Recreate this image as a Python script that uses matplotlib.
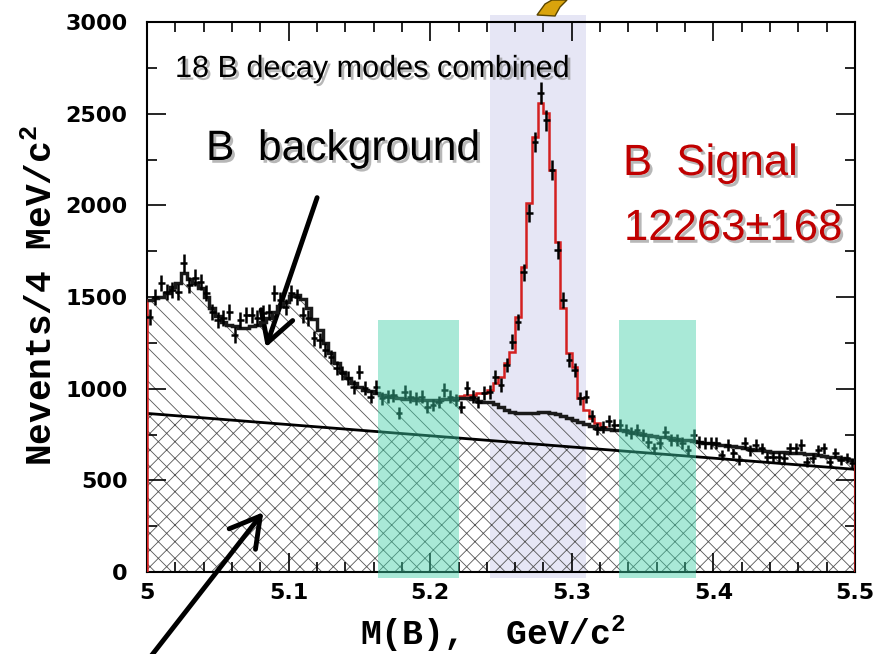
import matplotlib
matplotlib.use("Agg")
import matplotlib.pyplot as plt
import matplotlib.patheffects as pe
from matplotlib import font_manager
from matplotlib.patches import Rectangle, Polygon
from matplotlib.ticker import MultipleLocator, FuncFormatter
import numpy as np

# 4 MeV bins between 5.0 and 5.5 GeV/c^2
mass_lo, mass_hi, n_bins = 5.0, 5.5, 125

data_counts = [
    1391, 1500, 1576, 1527, 1538, 1527, 1685, 1565, 1604, 1582,
    1522, 1418, 1375, 1385, 1418, 1293, 1375, 1402, 1402, 1385,
    1413, 1418, 1522, 1484, 1445, 1522, 1500, 1402, 1385, 1276,
    1265, 1211, 1173, 1113, 1085, 1058, 1009, 1091, 1004, 955,
    1009, 949, 955, 965, 867, 982, 955, 949, 955, 900,
    911, 927, 993, 955, 938, 900, 1004, 955, 927, 976,
    982, 1063, 1020, 1129, 1255, 1364, 1636, 1958, 2345, 2612,
    2465, 2193, 1756, 1484, 1156, 1102, 949, 955, 850, 780,
    790, 822, 802, 802, 775, 758, 775, 747, 709, 676,
    704, 764, 720, 720, 704, 665, 747, 709, 704, 704,
    704, 638, 693, 649, 611, 704, 665, 693, 676, 627,
    627, 627, 622, 676, 676, 693, 600, 622, 665, 676,
    600, 649, 611, 622, 594,
]

# B background (black step curve)
bkg_counts = [
    1485, 1495, 1500, 1520, 1555, 1575, 1630, 1600, 1576, 1550,
    1500, 1440, 1395, 1365, 1350, 1340, 1330, 1330, 1340, 1350,
    1365, 1385, 1420, 1450, 1475, 1505, 1512, 1490, 1440, 1380,
    1320, 1250, 1195, 1140, 1090, 1060, 1030, 1010, 995, 985,
    975, 965, 958, 952, 948, 945, 942, 940, 938, 938,
    938, 940, 942, 945, 948, 950, 948, 942, 935, 930,
    925, 915, 900, 885, 875, 868, 866, 868, 870, 872,
    872, 868, 862, 852, 842, 830, 818, 806, 795, 788,
    782, 778, 775, 772, 768, 762, 757, 752, 747, 742,
    738, 735, 731, 727, 722, 718, 714, 710, 706, 702,
    698, 694, 690, 686, 682, 678, 673, 668, 664, 660,
    657, 655, 653, 651, 649, 647, 645, 642, 638, 634,
    630, 625, 620, 615, 610,
]

# signal part of the fit, starting at bin 55
signal_first_bin = 55
signal_counts = [8, 15, 25, 40, 46, 70, 115, 163, 255, 325, 523, 798, 1145,
                 1503, 1686, 1632, 1325, 938, 588, 353, 288, 131, 78, 45, 25, 9, 4]

# continuum line at 5.0 and 5.5
comb_x = [5.0, 5.5]
comb_y = [865, 560]

sideband_lo = (5.163, 5.220)
sideband_hi = (5.333, 5.388)
signal_window = (5.242, 5.310)

W, H = 877, 654

names = {f.name for f in font_manager.fontManager.ttflist}
if "Liberation Sans Narrow" in names:
    narrow, squeeze = "Liberation Sans Narrow", 1.0
else:
    narrow, squeeze = "Liberation Sans", 0.85

plt.rcParams["hatch.linewidth"] = 0.6
plt.rcParams["mathtext.fontset"] = "custom"
plt.rcParams["mathtext.rm"] = "Liberation Mono:bold"
plt.rcParams["mathtext.it"] = "Liberation Mono:bold"
plt.rcParams["mathtext.bf"] = "Liberation Mono:bold"

edges = np.linspace(mass_lo, mass_hi, n_bins + 1)
centers = 0.5 * (edges[:-1] + edges[1:])
data = np.array(data_counts, dtype=float)
bkg = np.array(bkg_counts, dtype=float)
total = bkg.copy()
total[signal_first_bin:signal_first_bin + len(signal_counts)] += signal_counts

fig = plt.figure(figsize=(W / 100, H / 100), dpi=100)
ax = fig.add_axes([147 / W, 82 / H, 708 / W, 550 / H])
ax.set_xlim(mass_lo, mass_hi)
ax.set_ylim(0, 3000)

# signal window, behind everything
ax.add_patch(Rectangle((signal_window[0], -35), signal_window[1] - signal_window[0], 3075,
                       facecolor="#e6e6f5", edgecolor="none", clip_on=False, zorder=0.5))

# combinatorial (cross hatched) and B background (diagonal hatch)
ax.fill([comb_x[0], comb_x[0], comb_x[1], comb_x[1]], [0, comb_y[0], comb_y[1], 0],
        facecolor="none", edgecolor="#555555", hatch="xx", linewidth=0, zorder=1)
step_x = np.concatenate([np.repeat(edges, 2)[1:-1], [comb_x[1], comb_x[0]]])
step_y = np.concatenate([np.repeat(bkg, 2), [comb_y[1], comb_y[0]]])
ax.add_patch(Polygon(np.column_stack([step_x, step_y]), facecolor="none",
                     edgecolor="#555555", hatch="\\\\", linewidth=0, zorder=1))

ax.plot(comb_x, comb_y, color="black", lw=2, zorder=3)
ax.stairs(total, edges, color="#d42020", lw=1.8, baseline=0, zorder=3)
ax.stairs(bkg, edges, color="#1a1a1a", lw=2.5, baseline=None, zorder=4)
ax.errorbar(centers, data, yerr=np.sqrt(data) * 1.15, xerr=0.0024, fmt="none",
            ecolor="black", elinewidth=1.8, zorder=5)

# sidebands, on top
for lo, hi in (sideband_lo, sideband_hi):
    ax.add_patch(Rectangle((lo, -35), hi - lo, 1410, facecolor="#40d0a8",
                           edgecolor="none", alpha=0.45, clip_on=False, zorder=6))

ax.xaxis.set_major_locator(MultipleLocator(0.1))
ax.xaxis.set_minor_locator(MultipleLocator(0.02))
ax.yaxis.set_major_locator(MultipleLocator(500))
ax.yaxis.set_minor_locator(MultipleLocator(250))
ax.xaxis.set_major_formatter(FuncFormatter(lambda v, p: f"{v:g}"))
ax.yaxis.set_major_formatter(FuncFormatter(lambda v, p: f"{v:g}"))
ax.tick_params(which="both", direction="in", top=True, right=True, width=1.2)
ax.tick_params(which="major", length=14)
ax.tick_params(which="minor", length=7)
ax.tick_params(axis="y", pad=14)
ax.tick_params(axis="x", pad=8)
for lab in ax.get_xticklabels() + ax.get_yticklabels():
    lab.set_fontfamily("DejaVu Sans")
    lab.set_fontweight("bold")
    lab.set_fontsize(16)
for sp in ax.spines.values():
    sp.set_linewidth(1.5)

fig.text(42 / W, 1 - 295 / H, "Nevents/4 MeV/c$^2$", rotation=90, ha="center",
         va="center", fontfamily="Liberation Mono", fontweight="bold", fontsize=26)
fig.text(493 / W, 1 - 645 / H, "M(B),  GeV/c$^2$", ha="center", va="baseline",
         fontfamily="Liberation Mono", fontweight="bold", fontsize=25)

shadow = [pe.SimplePatchShadow(offset=(2, -2), shadow_rgbFace="#888888", alpha=0.6),
          pe.Normal()]
fig.text(175 / W, 1 - 77 / H, "18 B decay modes combined", fontfamily=narrow,
         fontsize=27 * squeeze * 0.96, color="black", path_effects=shadow, zorder=8)
fig.text(206 / W, 1 - 160 / H, "B  background", fontfamily=narrow,
         fontsize=36 * squeeze, color="black", path_effects=shadow, zorder=8)
fig.text(623 / W, 1 - 175 / H, "B  Signal", fontfamily=narrow,
         fontsize=37 * squeeze, color="#c00000", path_effects=shadow, zorder=8)
fig.text(624 / W, 1 - 240 / H, "12263\u00b1168", fontfamily=narrow,
         fontsize=37 * squeeze, color="#c00000", path_effects=shadow, zorder=8)

arrow = dict(arrowstyle="->,head_length=0.7,head_width=0.4", lw=3.5,
             color="black", mutation_scale=30)
ax.annotate("", xy=(265, H - 350), xytext=(318, H - 195), xycoords="figure pixels",
            textcoords="figure pixels", arrowprops=arrow, annotation_clip=False)
ax.annotate("", xy=(265, H - 510), xytext=(148, -6), xycoords="figure pixels",
            textcoords="figure pixels", arrowprops=arrow, annotation_clip=False)

gold = [(537, 15), (545, 4), (552, 0), (567, 0), (560, 7), (555, 16)]
fig.patches.append(Polygon([(x / W, 1 - y / H) for x, y in gold], closed=True,
                           transform=fig.transFigure, facecolor="#d9a30c",
                           edgecolor="#5a4500", lw=1))

fig.savefig("out.png", dpi=100)
